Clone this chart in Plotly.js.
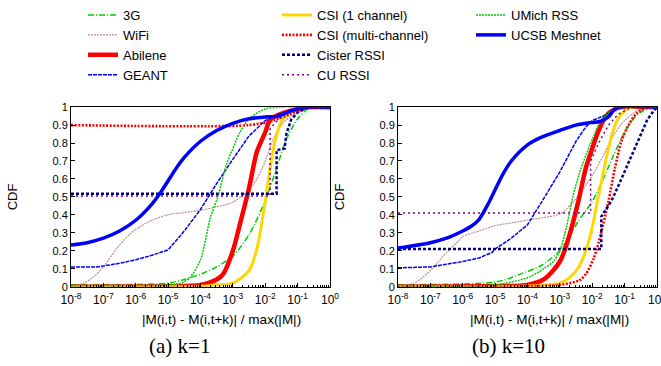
<!DOCTYPE html>
<html>
<head>
<meta charset="utf-8">
<script src="https://cdn.plot.ly/plotly-3.0.1.min.js"></script>
<style>html,body{margin:0;padding:0;background:#fff;}#chart{width:661px;height:366px;}</style>
</head>
<body>
<div id="chart"></div>
<script>
// ---- data (x given as log10 exponents, y = CDF) ----
const seriesNames = ["3G","WiFi","Abilene","GEANT","CSI (1 channel)","CSI (multi-channel)","Cister RSSI","CU RSSI","UMich RSS","UCSB Meshnet"];
const xTickExp = [-8,-7,-6,-5,-4,-3,-2,-1,0];
const xTickText = ["10<sup>-8</sup>","10<sup>-7</sup>","10<sup>-6</sup>","10<sup>-5</sup>","10<sup>-4</sup>","10<sup>-3</sup>","10<sup>-2</sup>","10<sup>-1</sup>","10<sup>0</sup>"];
const yTickVals = [0,0.1,0.2,0.3,0.4,0.5,0.6,0.7,0.8,0.9,1];
const yTickText = ["0","0.1","0.2","0.3","0.4","0.5","0.6","0.7","0.8","0.9","1"];
const captions = ["(a) k=1","(b) k=10"];
const xTitle = "|M(i,t) - M(i,t+k)| / max(|M|)";
const yTitle = "CDF";

// panel (a) k=1
const g3A_x = [-8,-6,-5,-4.5,-4,-3.5,-3,-2.5,-2,-1.65,-1.35,-1,-0.6,0];
const g3A_y = [0.01,0.012,0.02,0.04,0.07,0.11,0.17,0.29,0.48,0.66,0.82,0.935,1,1];
const wifiA_x = [-8,-7.6,-7.3,-7,-6.6,-6.2,-5.9,-5.5,-5,-4,-3.5,-3,-2.5,-2.26,-2,-1.75,-1.5,-1.25,-1,-0.5,0];
const wifiA_y = [0,0.02,0.055,0.11,0.21,0.29,0.33,0.37,0.40,0.425,0.445,0.47,0.54,0.6,0.7,0.825,0.9,0.945,0.97,1,1];
const abilA_x = [-8,-5,-4,-3.5,-3.3,-3,-2.78,-2.5,-2.26,-2,-1.85,-1.55,-1,-0.7,0];
const abilA_y = [0,0.002,0.01,0.04,0.07,0.2,0.35,0.55,0.75,0.86,0.93,0.96,0.99,1,1];
const geantA_x = [-8,-7.2,-7,-6.5,-6,-5.5,-5,-4.5,-4,-3.5,-3,-2.5,-2,-1.6,-1,-0.5,0];
const geantA_y = [0.11,0.11,0.115,0.13,0.15,0.175,0.205,0.31,0.43,0.575,0.71,0.84,0.925,0.96,0.99,1,1];
const csi1A_x = [-8,-4,-3.5,-3,-2.5,-2.26,-2,-1.85,-1.7,-1.5,-1.25,-0.8,0];
const csi1A_y = [0,0.002,0.01,0.02,0.09,0.21,0.475,0.66,0.81,0.92,0.97,1,1];
const csimA_x = [-8,-2.5,-1.75,-1.25,-0.85,-0.5,0];
const csimA_y = [0.9,0.9,0.926,0.96,0.99,1,1];
const cisterA_x = [-8,-1.65,-1.65,-1.4,-1.35,-1.2,-1.0,-0.7,0];
const cisterA_y = [0.518,0.518,0.76,0.77,0.85,0.93,0.97,1,1];
const cuA_x = [-8,-1.85,-1.85,-1.5,-1,0];
const cuA_y = [0.505,0.505,0.88,0.95,1,1];
const umichA_x = [-8,-5,-4.6,-4.33,-4,-3.7,-3.45,-3.2,-3,-2.78,-2.5,-2,-1.5,0];
const umichA_y = [0.005,0.01,0.02,0.05,0.15,0.38,0.51,0.68,0.77,0.86,0.935,0.99,1,1];
const ucsbA_x = [-8,-7.5,-7,-6.5,-6,-5.5,-5.25,-5,-4.75,-4.5,-4,-3.5,-3,-2.5,-2,-1.6,-1.2,-0.8,0];
const ucsbA_y = [0.232,0.245,0.27,0.31,0.37,0.46,0.52,0.59,0.66,0.72,0.81,0.87,0.91,0.935,0.945,0.95,0.98,1,1];

// panel (b) k=10
const g3B_x = [-8,-6,-5,-4.5,-4.23,-3.6,-3,-2.7,-2.43,-2,-1.66,-1.35,-1,-0.73,-0.43,0];
const g3B_y = [0.01,0.015,0.025,0.05,0.07,0.115,0.2,0.28,0.365,0.475,0.6,0.73,0.86,0.935,0.98,1];
const wifiB_x = [-8,-7.5,-7,-6.5,-6.1,-6,-5.5,-5,-4.5,-4,-3.5,-3,-2.5,-2,-1.66,-1.35,-1,-0.6,-0.2,0];
const wifiB_y = [0,0.02,0.09,0.19,0.26,0.28,0.31,0.34,0.355,0.37,0.385,0.405,0.49,0.62,0.73,0.84,0.925,0.98,1,1];
const abilB_x = [-8,-5,-4,-3.5,-3,-2.7,-2.43,-2.2,-2,-1.8,-1.6,-1.3,-1.1,0];
const abilB_y = [0,0.003,0.01,0.04,0.14,0.29,0.475,0.66,0.77,0.87,0.945,0.99,1,1];
const geantB_x = [-8,-7,-6,-5.5,-5.1,-5,-4.5,-4,-3.5,-3,-2.5,-2.2,-2,-1.6,-1.3,-1,0];
const geantB_y = [0.105,0.11,0.14,0.16,0.19,0.21,0.27,0.345,0.49,0.64,0.81,0.89,0.925,0.955,0.99,1,1];
const csi1B_x = [-8,-4,-3,-2.7,-2.43,-2.2,-2,-1.85,-1.7,-1.55,-1.4,-1.25,-1.05,-0.8,0];
const csi1B_y = [0,0.003,0.02,0.05,0.105,0.2,0.33,0.47,0.6,0.73,0.84,0.92,0.97,1,1];
const csimB_x = [-8,-4,-3,-2.4,-2.2,-1.95,-1.74,-1.5,-1.3,-1.1,-0.88,-0.63,-0.3,0];
const csimB_y = [0,0.002,0.01,0.035,0.07,0.16,0.29,0.475,0.66,0.81,0.9,0.965,1,1];
const cisterB_x = [-8,-1.72,-1.72,-1.4,-1.1,-0.8,-0.55,-0.3,-0.1,0];
const cisterB_y = [0.21,0.21,0.39,0.48,0.6,0.72,0.83,0.93,0.98,1];
const cuB_x = [-8,-2.05,-2.05,-1.8,-1.5,-1.2,-0.8,0];
const cuB_y = [0.41,0.41,0.70,0.8,0.9,0.96,1,1];
const umichB_x = [-8,-5,-4,-3.5,-3.2,-3,-2.8,-2.6,-2.4,-2.2,-2,-1.8,-1.6,-1.3,-1,0];
const umichB_y = [0.005,0.01,0.05,0.1,0.14,0.2,0.33,0.5,0.63,0.73,0.82,0.9,0.95,0.99,1,1];
const ucsbB_x = [-8,-7,-6.5,-6,-5.75,-5.5,-5.2,-5,-4.75,-4.5,-4,-3.6,-3,-2.5,-2,-1.76,-1.5,-1.35,-1.2,0];
const ucsbB_y = [0.215,0.245,0.27,0.31,0.335,0.374,0.466,0.54,0.63,0.70,0.79,0.83,0.87,0.90,0.915,0.92,0.945,0.98,1,1];

// ---- styles ----
const styles = [
  {color:'#00cc00', width:1.5, dash:'6px,2px,1px,2px', shape:'spline', legend:'legend'},
  {color:'#bc8f8f', width:1.2, dash:'2px,1px', shape:'spline', legend:'legend'},
  {color:'#ff0000', width:4.5, dash:'solid', shape:'spline', legend:'legend'},
  {color:'#0000ff', width:1.5, dash:'4px,1px', shape:'linear', legend:'legend'},
  {color:'#ffd700', width:3, dash:'solid', shape:'spline', legend:'legend2'},
  {color:'#ff0000', width:2.6, dash:'2px,1.5px', shape:'spline', legend:'legend2'},
  {color:'#000080', width:2.5, dash:'3px,2px', shape:'linear', legend:'legend2'},
  {color:'#800080', width:1.5, dash:'2px,3px', shape:'linear', legend:'legend2'},
  {color:'#00cc00', width:1.5, dash:'2px,1px', shape:'spline', legend:'legend3'},
  {color:'#0000ff', width:3.5, dash:'solid', shape:'spline', legend:'legend3'}
];

const panelA = [[g3A_x,g3A_y],[wifiA_x,wifiA_y],[abilA_x,abilA_y],[geantA_x,geantA_y],[csi1A_x,csi1A_y],[csimA_x,csimA_y],[cisterA_x,cisterA_y],[cuA_x,cuA_y],[umichA_x,umichA_y],[ucsbA_x,ucsbA_y]];
const panelB = [[g3B_x,g3B_y],[wifiB_x,wifiB_y],[abilB_x,abilB_y],[geantB_x,geantB_y],[csi1B_x,csi1B_y],[csimB_x,csimB_y],[cisterB_x,cisterB_y],[cuB_x,cuB_y],[umichB_x,umichB_y],[ucsbB_x,ucsbB_y]];

const traces = [];
[panelA, panelB].forEach((panel, p) => {
  panel.forEach((s, i) => {
    const st = styles[i];
    traces.push({
      type:'scatter', mode:'lines', name: seriesNames[i],
      x: s[0].map(e => Math.pow(10, e)), y: s[1],
      xaxis: p === 0 ? 'x' : 'x2', yaxis: p === 0 ? 'y' : 'y2',
      line: {color: st.color, width: st.width, dash: st.dash, shape: st.shape, smoothing: 0.8},
      showlegend: p === 0, legend: st.legend, hoverinfo: 'skip'
    });
  });
});

const minorVals = [];
for (let d = -8; d < 0; d++) for (let m = 2; m <= 9; m++) minorVals.push(m * Math.pow(10, d));

const W = 661, H = 366;
const fam = '"Liberation Sans", Arial, sans-serif';
const font = {family:fam, size:11, color:'#000'};
const labFont = {family:fam, size:13.5, color:'#000'};
function xax(l, r, anchor) {
  return {
    domain:[l/W, r/W], type:'log', range:[-8,0], anchor: anchor,
    tickmode:'array', tickvals: xTickExp.map(e => Math.pow(10, e)), ticktext: xTickText,
    ticks:'inside', ticklen:4, tickcolor:'#000', showline:true, linecolor:'#000', linewidth:1, mirror:true,
    showgrid:false, zeroline:false, tickfont: {family:fam, size:12, color:'#000'}, ticklabelstandoff:2,
    ticklabeloverflow:'allow',
    minor:{tickmode:'array', tickvals:minorVals, ticks:'inside', ticklen:2, tickcolor:'#000', showgrid:false}
  };
}
function yax(anchor) {
  return {
    domain:[80/H, 261/H], range:[0,1], anchor: anchor, tickmode:'array', tickvals:yTickVals, ticktext:yTickText,
    ticks:'inside', ticklen:4, tickcolor:'#000', showline:true, linecolor:'#000', linewidth:1, mirror:true,
    showgrid:false, zeroline:false, tickfont: font,
    title:{text:yTitle, font:{family:fam, size:13, color:'#000'}, standoff:31}
  };
}

const legBase = {orientation:'v', yanchor:'top', xanchor:'left', bgcolor:'rgba(0,0,0,0)', font:{family:fam, size:13, color:'#000'}, tracegroupgap:0, itemwidth:30};
const capFont = {family:'"Liberation Serif", "Times New Roman", serif', size:21, color:'#000'};
function ann(text, xc, yc, f) {
  return {text:text, x:xc/W, y:1-yc/H, xref:'paper', yref:'paper', showarrow:false, xanchor:'center', yanchor:'middle', font:f};
}
const layout = {
  width:W, height:H, margin:{l:0,r:0,t:0,b:0}, paper_bgcolor:'#fff', plot_bgcolor:'#fff',
  showlegend:true,
  xaxis: xax(71, 330, 'y'), yaxis: yax('x'), xaxis2: xax(398, 657, 'y2'), yaxis2: yax('x2'),
  legend: Object.assign({}, legBase, {x:(123-40)/W, y:1+3/H}),
  legend2: Object.assign({}, legBase, {x:(317-40)/W, y:1+3/H}),
  legend3: Object.assign({}, legBase, {x:(511-40)/W, y:1+3/H}),
  annotations: [
    ann(xTitle, 221, 319, labFont),
    ann(xTitle, 549, 319, labFont),
    ann(captions[0], 179, 346, capFont),
    ann(captions[1], 508, 346, capFont)
  ]
};
Plotly.newPlot('chart', traces, layout, {staticPlot:true, displayModeBar:false});
</script>
</body>
</html>
